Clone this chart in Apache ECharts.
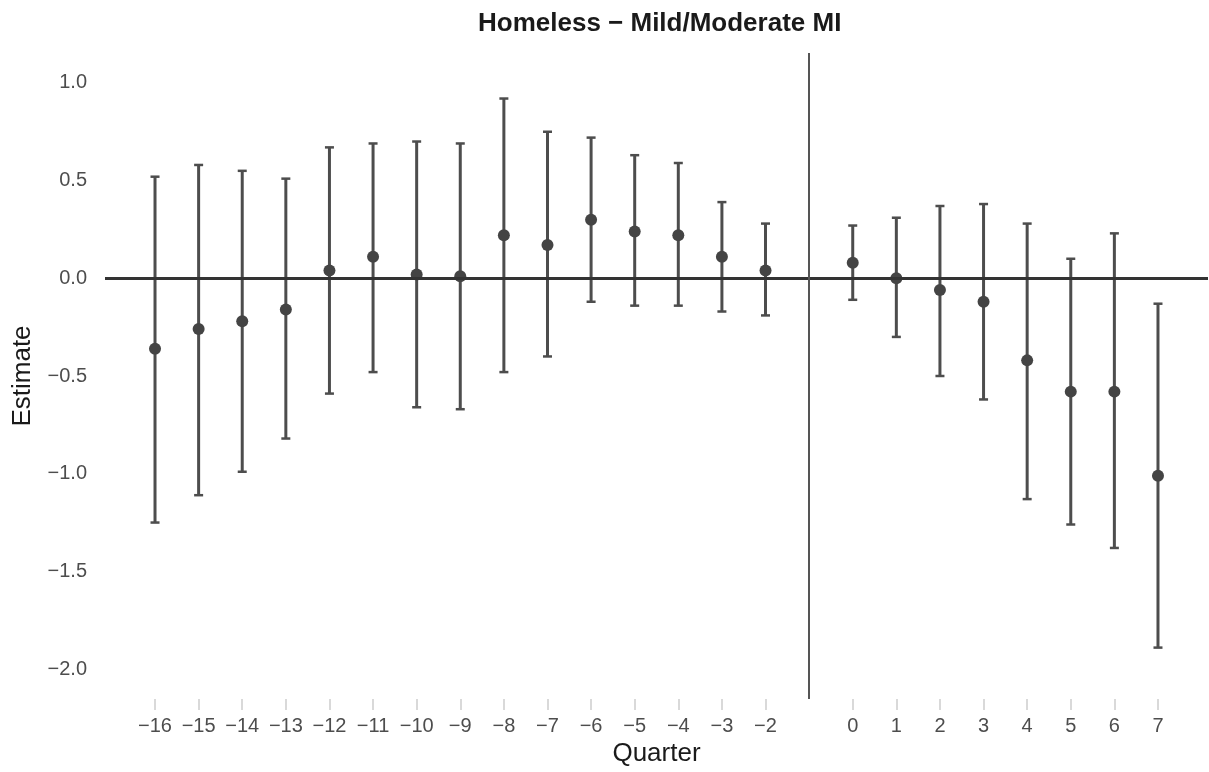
<!DOCTYPE html>
<html>
<head>
<meta charset="utf-8">
<script src="https://cdn.jsdelivr.net/npm/echarts@6/dist/echarts.min.js"></script>
<style>
  html, body { margin: 0; padding: 0; background: #ffffff; }
  #chart { width: 1209px; height: 772px; }
</style>
</head>
<body>
<div id="chart"></div>
<script>
// Event-study coefficients by quarter relative to onset (quarter -1 is the reference period)
const quarters  = [-16, -15, -14, -13, -12, -11, -10, -9, -8, -7, -6, -5, -4, -3, -2, 0, 1, 2, 3, 4, 5, 6, 7];
const estimates = [-0.36, -0.26, -0.22, -0.16, 0.04, 0.11, 0.02, 0.01, 0.22, 0.17, 0.30, 0.24, 0.22, 0.11, 0.04, 0.08, 0.00, -0.06, -0.12, -0.42, -0.58, -0.58, -1.01];
const lowerCI   = [-1.25, -1.11, -0.99, -0.82, -0.59, -0.48, -0.66, -0.67, -0.48, -0.40, -0.12, -0.14, -0.14, -0.17, -0.19, -0.11, -0.30, -0.50, -0.62, -1.13, -1.26, -1.38, -1.89];
const upperCI   = [0.52, 0.58, 0.55, 0.51, 0.67, 0.69, 0.70, 0.69, 0.92, 0.75, 0.72, 0.63, 0.59, 0.39, 0.28, 0.27, 0.31, 0.37, 0.38, 0.28, 0.10, 0.23, -0.13];
const yTicks    = [-2.0, -1.5, -1.0, -0.5, 0.0, 0.5, 1.0];
const refQuarter = -1;

const minus = s => String(s).replace('-', '\u2212');
const ink = '#4d4d4d';
const family = '"Liberation Sans", Arial, sans-serif';

const errData = quarters.map((q, i) => [q, lowerCI[i], upperCI[i]]);
const ptData  = quarters.map((q, i) => [q, estimates[i]]);

const chart = echarts.init(document.getElementById('chart'), null, { renderer: 'canvas' });

chart.setOption({
  animation: false,
  backgroundColor: '#ffffff',
  graphic: [{
    type: 'text',
    left: 478,
    top: 11,
    style: {
      text: 'Homeless \u2212 Mild/Moderate MI',
      font: 'bold 26px ' + family,
      fill: '#1a1a1a'
    }
  }],
  grid: { left: 105, right: 1, top: 53, bottom: 62, containLabel: false },
  xAxis: {
    type: 'value',
    min: -17.147,
    max: 8.147,
    name: 'Quarter',
    nameLocation: 'middle',
    nameGap: 42,
    nameTextStyle: { color: '#1a1a1a', fontSize: 26, fontFamily: family },
    axisLine: { show: false, onZero: false },
    splitLine: { show: false },
    axisTick: {
      show: true,
      customValues: quarters,
      length: 11,
      lineStyle: { color: '#d9d9d9', width: 2 }
    },
    axisLabel: {
      customValues: quarters,
      margin: 17,
      color: ink,
      fontSize: 20,
      fontFamily: family,
      formatter: v => minus(v)
    }
  },
  yAxis: {
    type: 'value',
    min: -2.153,
    max: 1.153,
    name: 'Estimate',
    nameLocation: 'middle',
    nameGap: 69,
    nameTextStyle: { color: '#1a1a1a', fontSize: 26, fontFamily: family },
    axisLine: { show: false, onZero: false },
    axisTick: { show: false },
    splitLine: { show: false },
    axisLabel: {
      customValues: yTicks,
      margin: 18,
      color: ink,
      fontSize: 20,
      fontFamily: family,
      formatter: v => minus(v.toFixed(1))
    }
  },
  series: [
    {
      // reference lines: zero effect and the omitted quarter
      type: 'line',
      data: [],
      silent: true,
      markLine: {
        symbol: 'none',
        silent: true,
        label: { show: false },
        data: [
          { yAxis: 0, lineStyle: { color: '#333333', width: 3, type: 'solid' } },
          { xAxis: refQuarter, lineStyle: { color: '#555555', width: 2, type: 'solid' } }
        ]
      }
    },
    {
      // 95% confidence intervals with end caps
      type: 'custom',
      data: errData,
      z: 3,
      renderItem: (params, api) => {
        const x = api.value(0);
        const lo = api.coord([x, api.value(1)]);
        const hi = api.coord([x, api.value(2)]);
        const cap = 4.5;
        const stroke = { stroke: ink, lineWidth: 3 };
        const capStroke = { stroke: ink, lineWidth: 2.5 };
        return {
          type: 'group',
          children: [
            { type: 'line', shape: { x1: lo[0], y1: lo[1], x2: hi[0], y2: hi[1] }, style: stroke },
            { type: 'line', shape: { x1: lo[0] - cap, y1: lo[1], x2: lo[0] + cap, y2: lo[1] }, style: capStroke },
            { type: 'line', shape: { x1: hi[0] - cap, y1: hi[1], x2: hi[0] + cap, y2: hi[1] }, style: capStroke }
          ]
        };
      }
    },
    {
      type: 'scatter',
      data: ptData,
      z: 4,
      symbol: 'circle',
      symbolSize: 12,
      itemStyle: { color: '#444444', opacity: 1 }
    }
  ]
});
</script>
</body>
</html>
